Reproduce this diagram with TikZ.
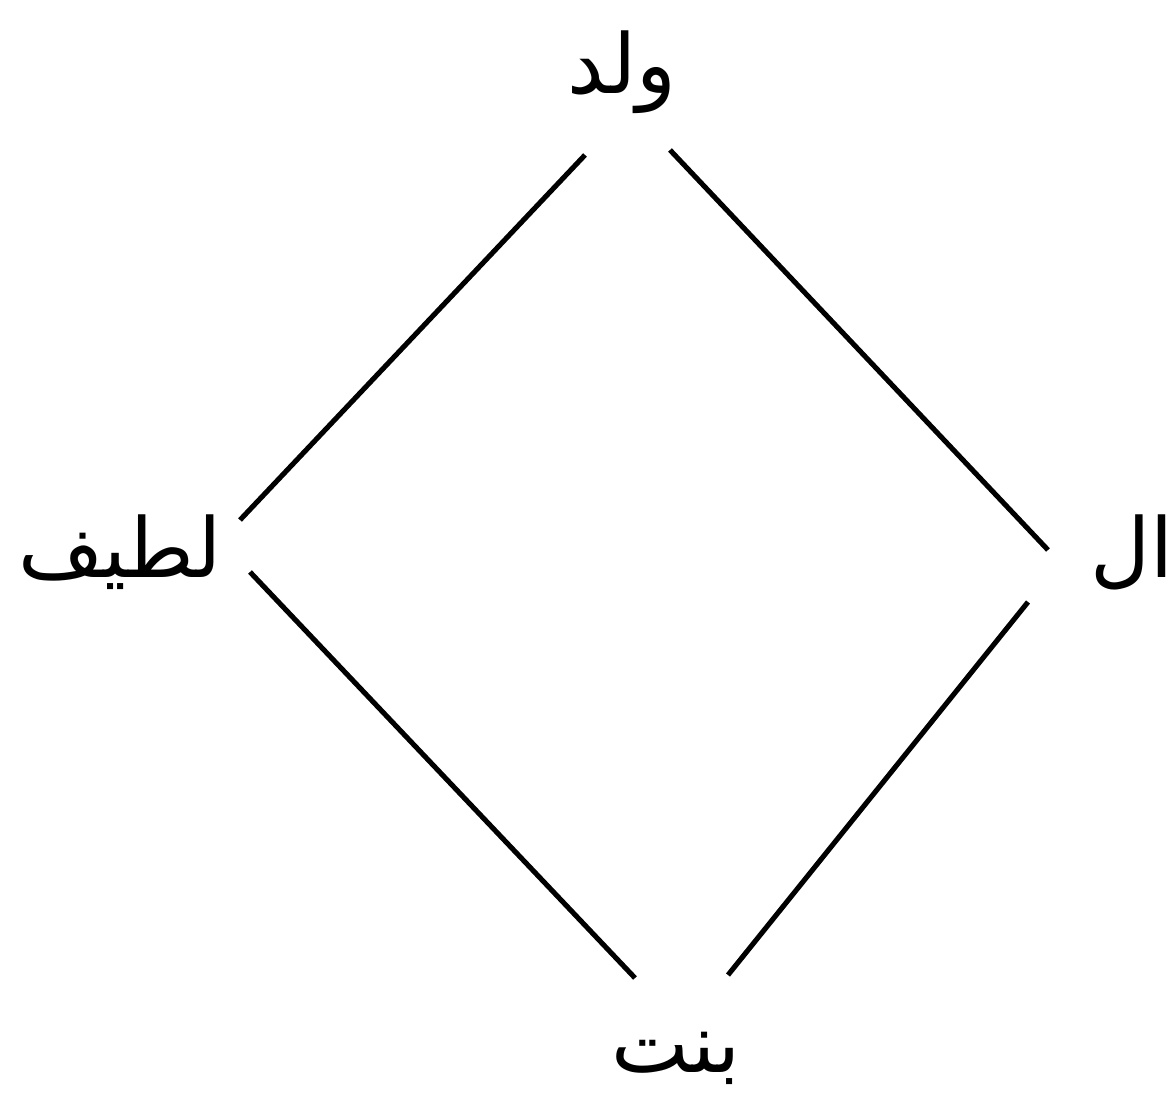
\documentclass[tikz,border=0pt]{standalone}
\usepackage{fontspec}
\usepackage{xcolor}
\usepackage{tikz}
\usetikzlibrary{positioning}
\TeXXeTstate=1
\newfontfamily\arabicfont[Script=Arabic]{DejaVu Sans}
\definecolor{WdInk}{HTML}{000000}
\tikzset{
  wdword/.style={
    inner sep=0pt,
    text=WdInk,
    font=\arabicfont\fontsize{47}{52}\selectfont
  },
  wdline/.style={draw=WdInk,line width=2.9pt}
}

\begin{document}
\begin{tikzpicture}[x=0.02cm,y=-0.02cm]
  \useasboundingbox (0,0) rectangle (1176,1097);

  \node[wdword] (boy)   at (622,72)   {\beginR ولد\endR};
  \node[wdword] (nice)  at (120,552)  {\beginR لطيف\endR};
  \node[wdword] (girl)  at (676,1058) {\beginR بنت\endR};
  \node[wdword,anchor=east] (other) at (1174,552) {\beginR ال\endR};

  \coordinate (boyL)   at (585,155);
  \coordinate (boyR)   at (670,150);
  \coordinate (niceT)  at (240,520);
  \coordinate (niceB)  at (250,572);
  \coordinate (otherT) at (1048,550);
  \coordinate (otherB) at (1028,602);
  \coordinate (girlL)  at (635,978);
  \coordinate (girlR)  at (728,975);

  \draw[wdline] (boyL) -- (niceT);
  \draw[wdline] (boyR) -- (otherT);
  \draw[wdline] (niceB) -- (girlL);
  \draw[wdline] (otherB) -- (girlR);
\end{tikzpicture}
\end{document}
